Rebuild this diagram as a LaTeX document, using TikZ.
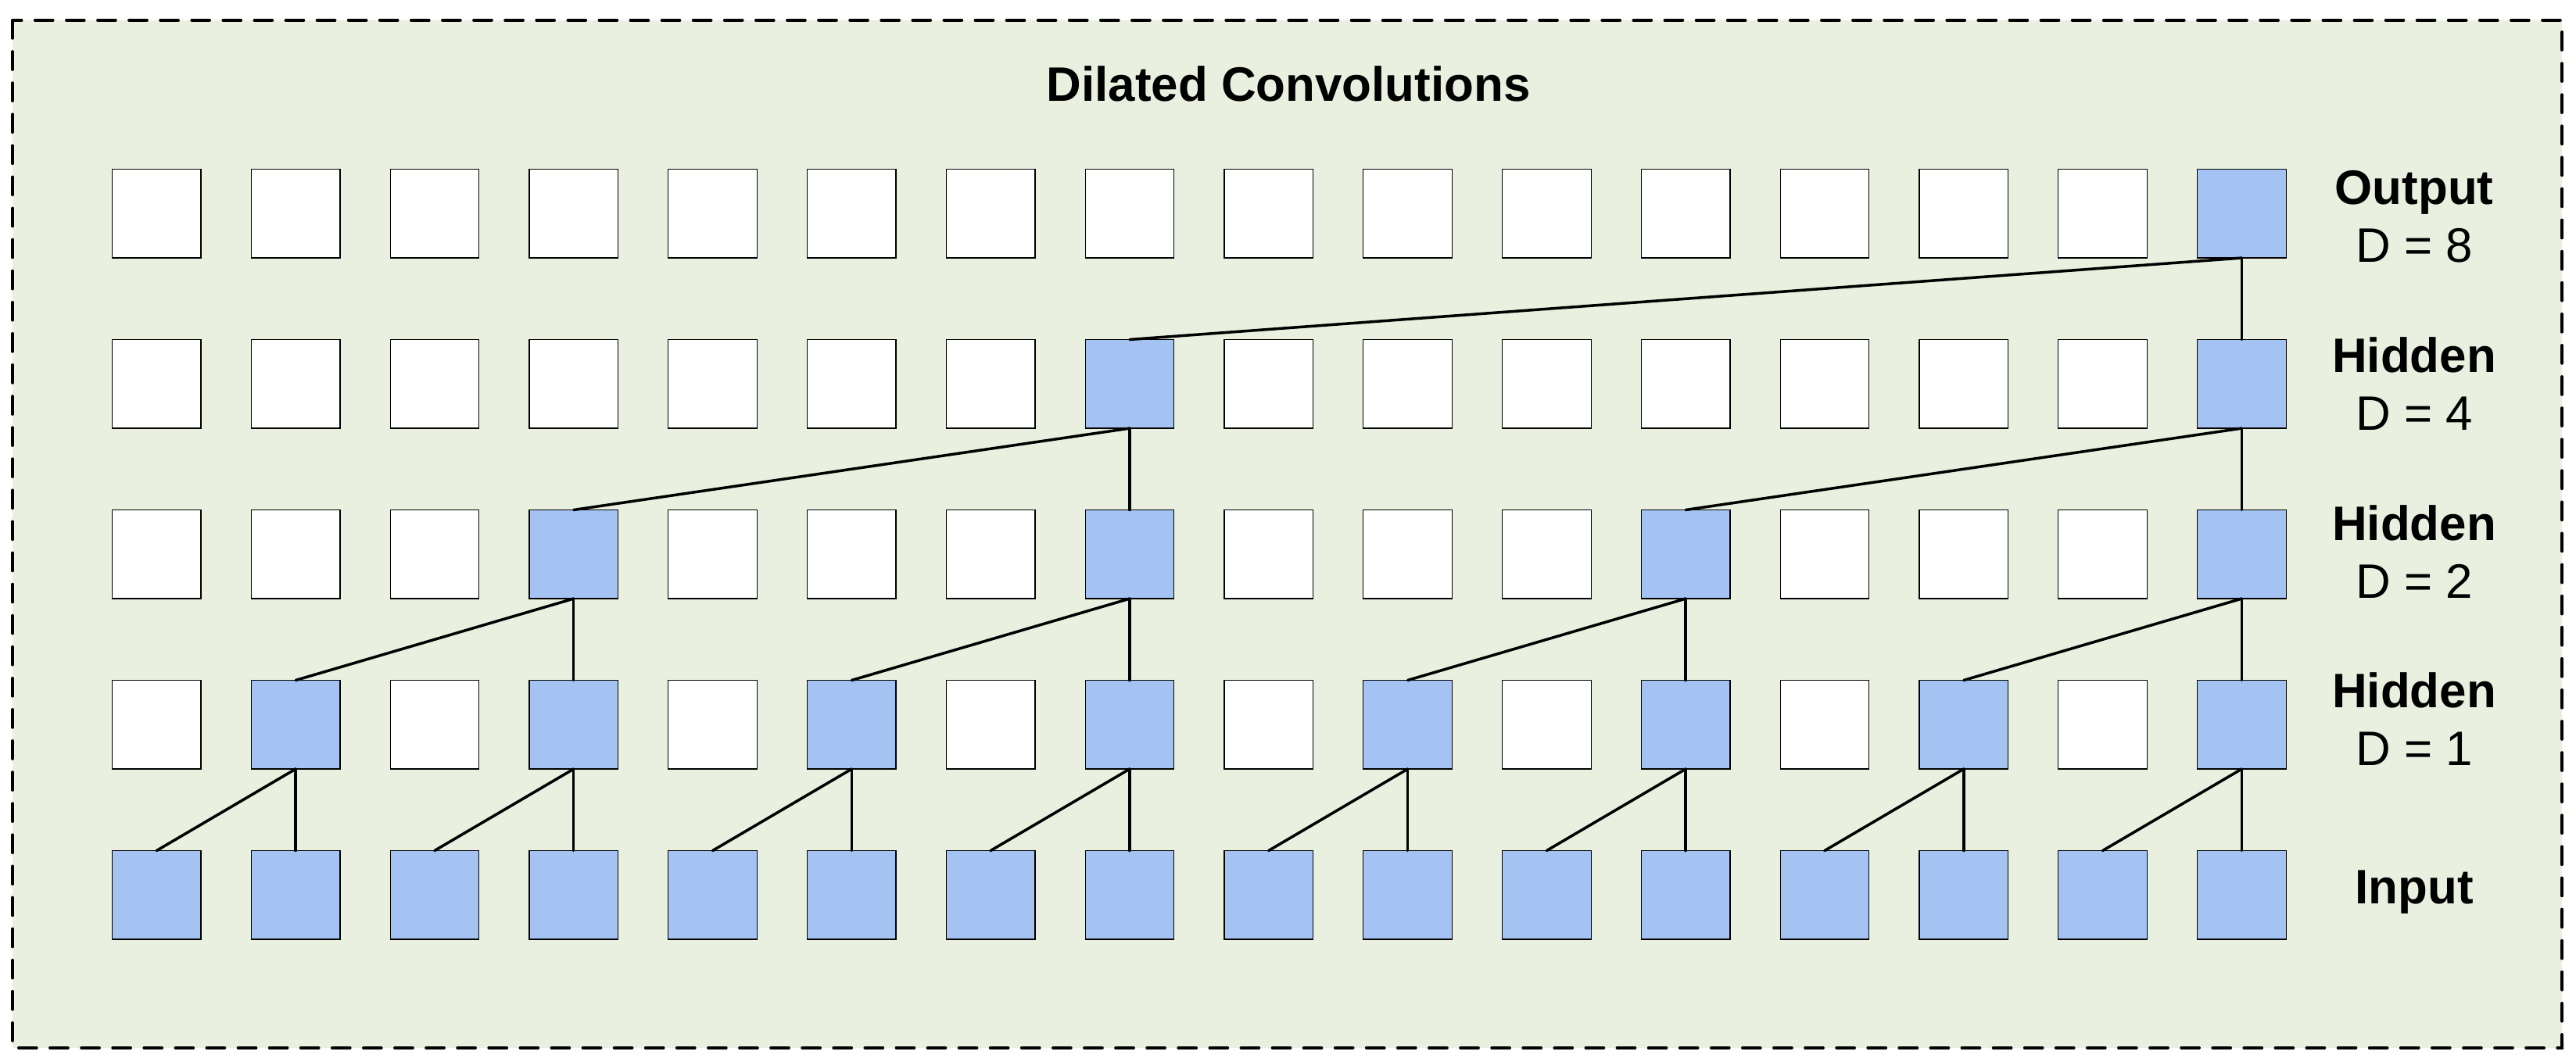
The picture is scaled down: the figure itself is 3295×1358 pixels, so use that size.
\documentclass[tikz,border=0pt]{standalone}
\usepackage{fontspec}
\setmainfont{Liberation Sans}
\definecolor{bggreen}{HTML}{E9F0DF}
\definecolor{cellblue}{HTML}{A4C3F2}
\begin{document}
\begin{tikzpicture}[x=0.01cm,y=-0.01cm,
  cellbase/.style={draw=black,line width=0.35pt,minimum size=1.135cm,inner sep=0pt,outer sep=0pt},
  cellon/.style={cellbase,fill=cellblue},
  celloff/.style={cellbase,fill=white},
  conn/.style={draw=black,line width=1pt,line cap=round},
  lbl/.style={anchor=base,inner sep=0pt,font=\fontsize{17.6pt}{21pt}\selectfont},
  lblb/.style={lbl,font=\fontsize{17.6pt}{21pt}\selectfont\bfseries},
  frame/.style={draw=black,fill=bggreen,line width=1.1pt,dash pattern=on 6.5pt off 4.9pt,line cap=round}]
\useasboundingbox (0,0) rectangle (3295,1358);
\fill[white] (0,0) rectangle (3295,1358);
\draw[frame] (16,26) rectangle (3277,1341);
\node[lblb] (title) at (1648,130) {Dilated Convolutions};
% cells
\foreach \r in {0,...,4}{
  \pgfmathtruncatemacro\p{2^\r}
  \foreach \c in {0,...,15}{
    \pgfmathtruncatemacro\m{mod(\c+1,\p)}
    \ifnum\m=0 \def\sty{cellon}\else\def\sty{celloff}\fi
    \node[\sty] (n\r-\c) at ({200.3+177.8*\c},{1145.3-218*\r}) {};
  }
}
% connectors
\foreach \r in {1,...,4}{
  \pgfmathtruncatemacro\p{2^\r}
  \pgfmathtruncatemacro\d{2^(\r-1)}
  \pgfmathtruncatemacro\rr{\r-1}
  \foreach \c in {0,...,15}{
    \pgfmathtruncatemacro\m{mod(\c+1,\p)}
    \ifnum\m=0
      \pgfmathtruncatemacro\cc{\c-\d}
      \draw[conn] (n\r-\c.south) -- (n\rr-\c.north);
      \draw[conn] (n\r-\c.south) -- (n\rr-\cc.north);
    \fi
  }
}
% labels
\node[lblb] (l4a) at (3088,261.7) {Output};
\node[lbl]  (l4b) at (3088,335.5) {D = 8};
\node[lblb] (l3a) at (3088,476.5) {Hidden};
\node[lbl]  (l3b) at (3088,550.5) {D = 4};
\node[lblb] (l2a) at (3088,691) {Hidden};
\node[lbl]  (l2b) at (3088,765) {D = 2};
\node[lblb] (l1a) at (3088,905) {Hidden};
\node[lbl]  (l1b) at (3088,979.3) {D = 1};
\node[lblb] (l0)  at (3088,1156.7) {Input};
\end{tikzpicture}
\end{document}
